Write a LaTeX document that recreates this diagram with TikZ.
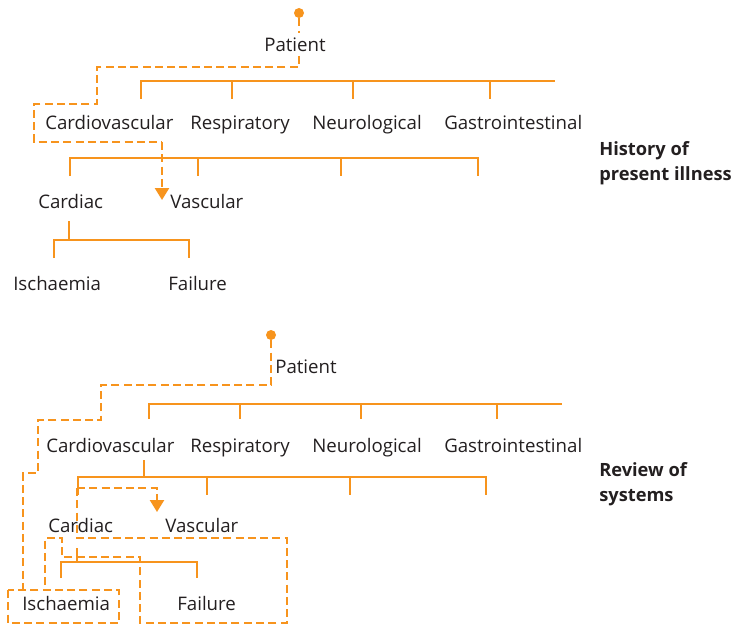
\documentclass[tikz,border=0pt]{standalone}
\usepackage{fontspec}
\setmainfont{Open Sans}
\usetikzlibrary{arrows.meta}

\definecolor{cborange}{RGB}{247,148,29}
\definecolor{ink}{RGB}{35,31,32}

\tikzset{
  lbl/.style = {anchor=base west, inner sep=0pt, text=ink, font=\fontsize{14}{16}\selectfont},
  head/.style = {anchor=base west, inner sep=0pt, text=ink, align=left, font=\fontsize{13.7}{18.75}\selectfont\bfseries},
  tree/.style = {cborange, line width=1.8pt},
  route/.style = {cborange, line width=1.8pt, dash pattern=on 6pt off 3.2pt},
  into/.style = {route, -{Triangle[width=10.5pt,length=9pt]}},
  dot/.style = {circle, fill=cborange, inner sep=0pt, minimum size=7.5pt}
}

\begin{document}
\begin{tikzpicture}[x=0.75pt, y=-0.75pt]

\useasboundingbox (0,0) rectangle (737,624);

% history of present illness
\node[dot] (dotA) at (299,13) {};
\node[lbl] (patA) at (264,52) {Patient};
\node[lbl] (cvA) at (45,129) {Cardiovascular};
\node[lbl] (respA) at (190,129) {Respiratory};
\node[lbl] (neuroA) at (312,129) {Neurological};
\node[lbl] (giA) at (444,129) {Gastrointestinal};
\node[lbl] (cardA) at (38,208) {Cardiac};
\node[lbl] (vascA) at (170,208) {Vascular};
\node[lbl] (ischA) at (13,290) {Ischaemia};
\node[lbl] (failA) at (168,290) {Failure};
\node[head] (hpi) at (599,180) {History of\\present illness};

\draw[tree] (141,99) -- (141,81) -- (555,81);
\foreach \x in {232,353,490} \draw[tree] (\x,81) -- (\x,99);
\draw[tree] (70,176) -- (70,158) -- (478,158) -- (478,176);
\foreach \x in {198,341} \draw[tree] (\x,158) -- (\x,176);
\draw[tree] (69,221) -- (69,240);
\draw[tree] (54,258) -- (54,240) -- (189,240) -- (189,258);

\draw[route] (dotA) -- (299,33);
\draw[route] (299,56) -- (299,67) -- (97,67) -- (97,104) -- (34,104) -- (34,142) -- (162,142);
\draw[into] (162,142) -- (162,200);

% review of systems
\node[dot] (dotB) at (271,335) {};
\node[lbl] (patB) at (275,373) {Patient};
\node[lbl] (cvB) at (46,452) {Cardiovascular};
\node[lbl] (respB) at (190,452) {Respiratory};
\node[lbl] (neuroB) at (312,452) {Neurological};
\node[lbl] (giB) at (444,452) {Gastrointestinal};
\node[lbl] (cardB) at (48,532) {Cardiac};
\node[lbl] (vascB) at (165,532) {Vascular};
\node[lbl] (ischB) at (22,610) {Ischaemia};
\node[lbl] (failB) at (177,610) {Failure};
\node[head] (ros) at (599,501) {Review of\\systems};

\draw[tree] (149,419) -- (149,404) -- (562,404);
\foreach \x in {240,361,497} \draw[tree] (\x,404) -- (\x,419);
\draw[tree] (144,460) -- (144,477);
\draw[tree] (78,495) -- (78,477) -- (486,477) -- (486,495);
\foreach \x in {207,350} \draw[tree] (\x,477) -- (\x,495);
\draw[tree] (77,548) -- (77,562);
\draw[tree] (61,578) -- (61,562) -- (197,562) -- (197,578);

\draw[route] (dotB) -- (271,385) -- (101,385) -- (101,420) -- (38,420) -- (38,473) -- (23,473) -- (23,590);
\draw[into] (77,488) -- (157,488) -- (157,512);
\draw[route] (77,488) -- (77,538) -- (287,538) -- (287,623) -- (140,623) -- (140,557)
  -- (62,557) -- (62,538) -- (45,538) -- (45,590);
\draw[route] (8,590) rectangle (119,623);

\end{tikzpicture}
\end{document}
